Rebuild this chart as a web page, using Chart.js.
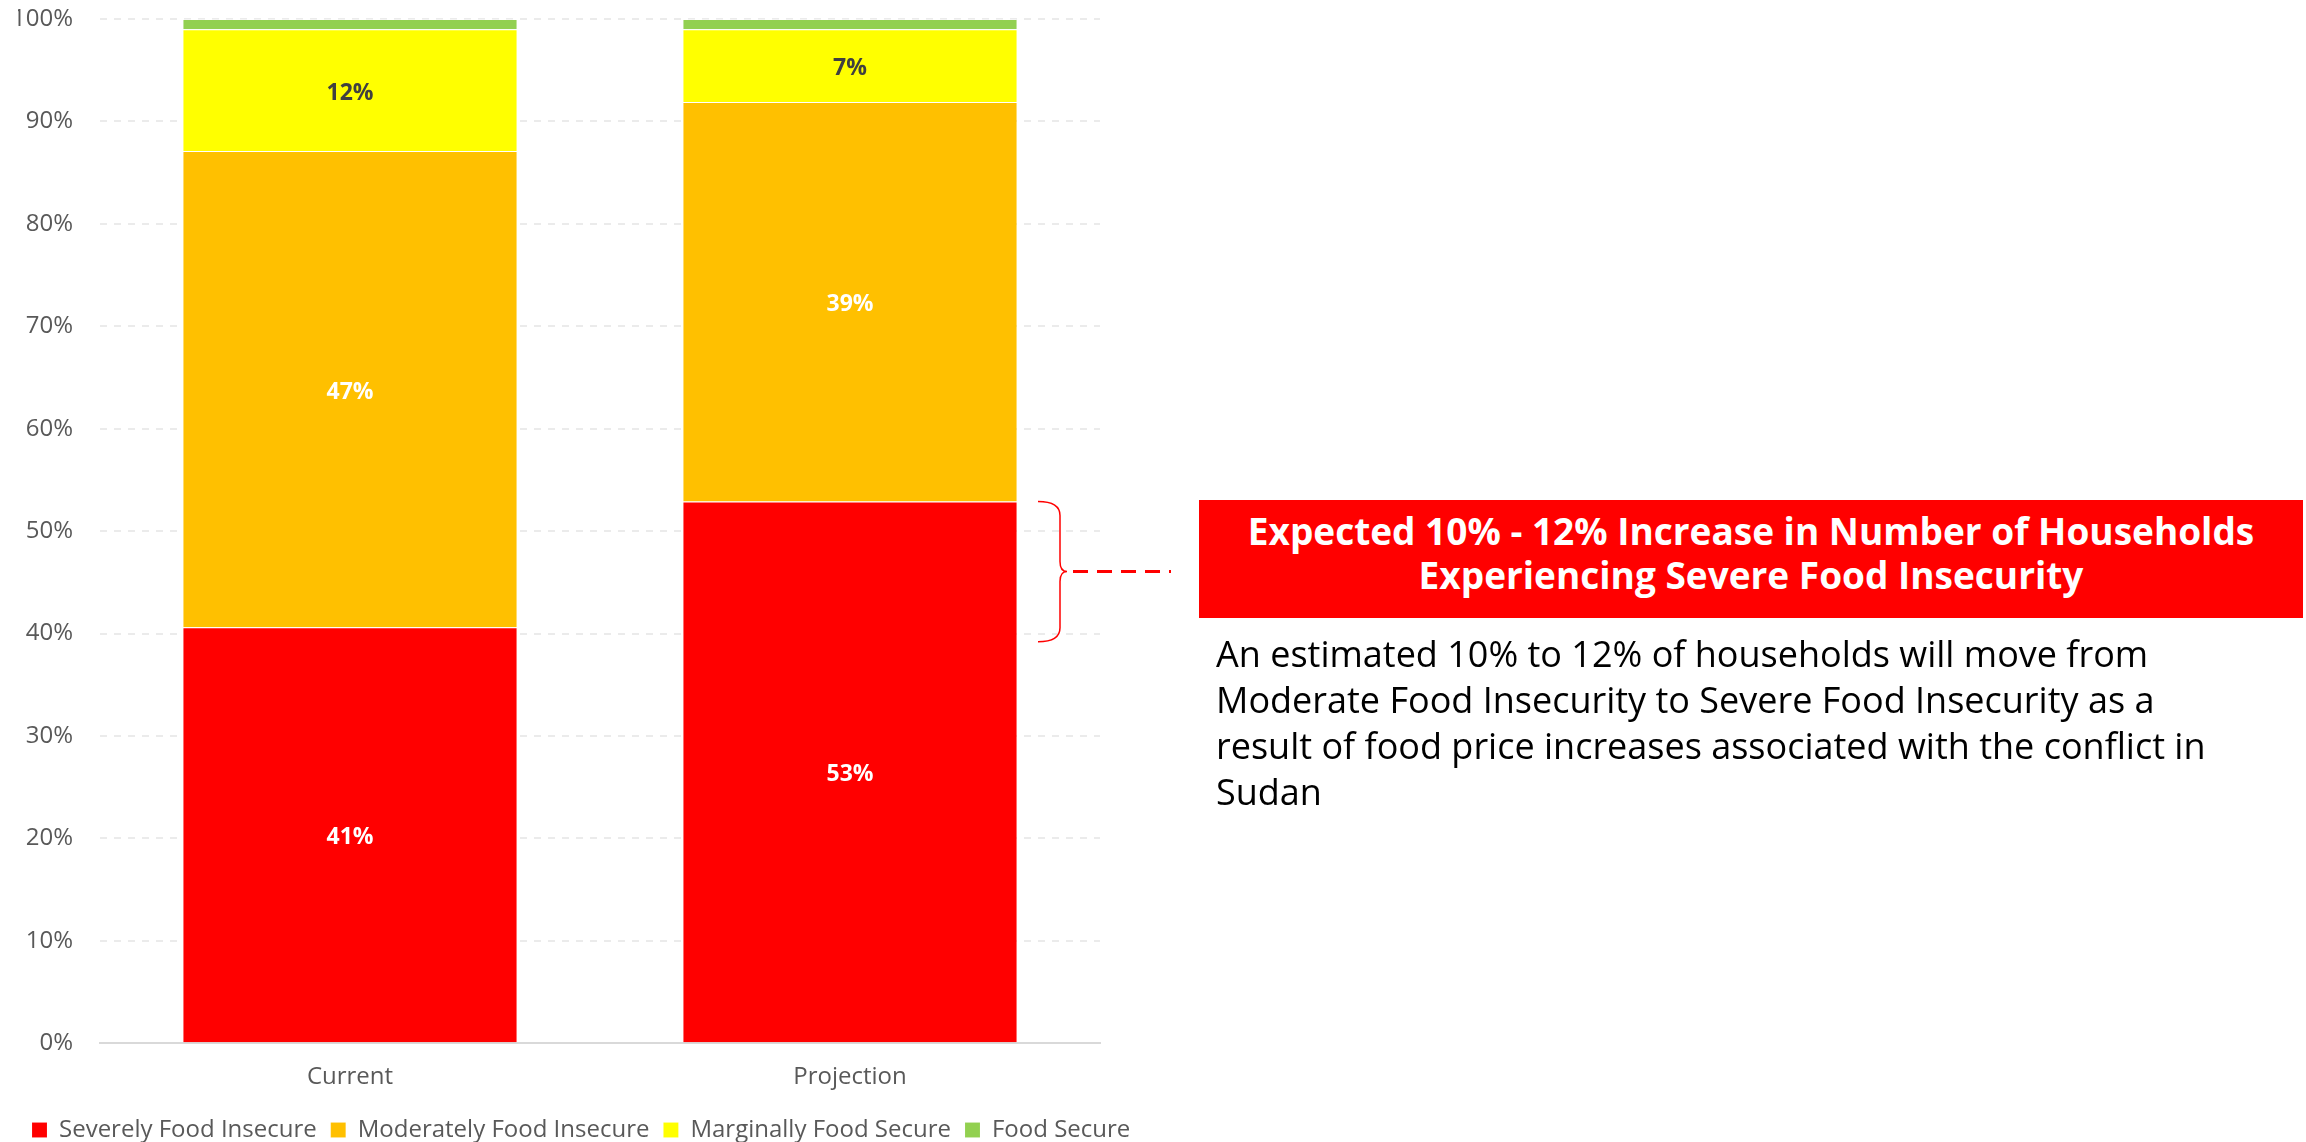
<!DOCTYPE html>
<html>
<head>
<meta charset="utf-8">
<title>Food insecurity projection</title>
<script src="https://cdn.jsdelivr.net/npm/chart.js@4.4.0/dist/chart.umd.min.js"></script>
<style>
  html, body { margin: 0; padding: 0; background: #fff; }
  #wrap { position: relative; width: 2306px; height: 1142px; font-family: 'Open Sans', sans-serif; }
  #chart { position: absolute; left: 0; top: 0; }
  #callout {
    position: absolute; left: 1199px; top: 500px; width: 1104px; height: 118px; box-sizing: border-box;
    padding-bottom: 12px;
    background: #ff0000; color: #fff; font-weight: 700; font-size: 37px; line-height: 44px;
    text-align: center; display: flex; align-items: center; justify-content: center;
  }
  #note { position: absolute; left: 1216px; top: 631px; font-size: 36px; line-height: 46px; color: #000; }
</style>
</head>
<body>
<div id="wrap">
  <canvas id="chart" width="2306" height="1142"></canvas>
  <div id="callout">Expected 10% - 12% Increase in Number of Households<br>Experiencing Severe Food Insecurity</div>
  <div id="note">An estimated 10% to 12% of households will move from<br>Moderate Food Insecurity to Severe Food Insecurity as a<br>result of food price increases associated with the conflict in<br>Sudan</div>
</div>
<script>
const categories = ['Current', 'Projection'];
const severe = [40.6, 52.9];
const moderate = [46.5, 39.0];
const marginal = [11.9, 7.1];
const secure = [1.0, 1.0];

const seriesNames = ['Severely Food Insecure', 'Moderately Food Insecure', 'Marginally Food Secure', 'Food Secure'];
const seriesColors = ['#ff0000', '#ffc000', '#ffff00', '#92d050'];
const labelColors = ['#ffffff', '#ffffff', '#404040', null];

// bracket next to the projection bar (percent values)
const braceRange = [52.9, 39.2];

Chart.defaults.font.family = "'Open Sans', sans-serif";
Chart.defaults.color = '#595959';

// segment value labels, centred in each stacked piece
const segmentLabels = {
  id: 'segmentLabels',
  afterDatasetsDraw(chart) {
    const { ctx } = chart;
    chart.data.datasets.forEach((ds, i) => {
      if (!labelColors[i]) return;
      chart.getDatasetMeta(i).data.forEach((bar, j) => {
        const { x, y, base } = bar.getProps(['x', 'y', 'base'], true);
        ctx.save();
        ctx.fillStyle = labelColors[i];
        ctx.font = "bold 23px 'Open Sans'";
        ctx.textAlign = 'center';
        ctx.textBaseline = 'middle';
        ctx.fillText(Math.round(ds.data[j]) + '%', x, (y + base) / 2 + 3);
        ctx.restore();
      });
    });
  }
};

const bracePlugin = {
  id: 'brace',
  afterDraw(chart) {
    const { ctx, chartArea, scales } = chart;
    const top = scales.y.getPixelForValue(braceRange[0]);
    const bottom = scales.y.getPixelForValue(braceRange[1]);
    const mid = (top + bottom) / 2;
    const x0 = chartArea.right - 62;
    const x1 = x0 + 22;
    const tip = x0 + 29;
    ctx.save();
    ctx.strokeStyle = '#ff0000';
    ctx.lineWidth = 1.5;
    ctx.beginPath();
    ctx.moveTo(x0, top);
    ctx.quadraticCurveTo(x1, top, x1, top + 14);
    ctx.lineTo(x1, mid - 10);
    ctx.quadraticCurveTo(x1, mid, tip, mid);
    ctx.quadraticCurveTo(x1, mid, x1, mid + 10);
    ctx.lineTo(x1, bottom - 14);
    ctx.quadraticCurveTo(x1, bottom, x0, bottom);
    ctx.stroke();
    ctx.setLineDash([15, 9]);
    ctx.lineWidth = 3;
    ctx.beginPath();
    ctx.moveTo(tip + 6, mid);
    ctx.lineTo(tip + 104, mid);
    ctx.stroke();
    ctx.restore();
  }
};

const seriesValues = [severe, moderate, marginal, secure];

new Chart(document.getElementById('chart'), {
  type: 'bar',
  data: {
    labels: categories,
    datasets: seriesNames.map((name, i) => ({
      label: name,
      data: seriesValues[i],
      backgroundColor: seriesColors[i],
      borderColor: 'rgba(255,255,255,0.45)',
      borderWidth: { top: 1 },
      borderSkipped: false,
      barPercentage: 0.667,
      categoryPercentage: 1
    }))
  },
  options: {
    responsive: false,
    animation: false,
    layout: { padding: { top: 19, left: 18, right: 1086, bottom: -10 } },
    plugins: {
      tooltip: { enabled: false },
      legend: {
        position: 'bottom',
        align: 'start',
        labels: {
          boxWidth: 15,
          boxHeight: 15,
          padding: 14,
          color: '#595959',
          font: { size: 24 }
        }
      }
    },
    scales: {
      x: {
        stacked: true,
        grid: { display: false },
        border: { display: true, color: '#d9d9d9', width: 2 },
        ticks: { color: '#595959', font: { size: 24 }, padding: 12 }
      },
      y: {
        stacked: true,
        min: 0,
        max: 100,
        grid: { color: '#ebebeb', lineWidth: 2, drawTicks: false },
        border: { display: false, dash: [7, 7] },
        ticks: {
          stepSize: 10,
          padding: 27,
          color: '#595959',
          font: { size: 24 },
          callback: v => v + '%'
        },
        afterFit: scale => {
          scale.width = 82;
          scale.paddingTop = 14;
          scale.paddingBottom = 14;
        }
      },
      // empty right-hand axis: keeps the plot narrow while the legend gets room
      gap: {
        axis: 'y',
        position: 'right',
        display: true,
        grid: { display: false },
        border: { display: false },
        ticks: { display: false },
        afterFit: scale => { scale.width = 120; }
      }
    }
  },
  plugins: [segmentLabels, bracePlugin]
});
</script>
</body>
</html>
